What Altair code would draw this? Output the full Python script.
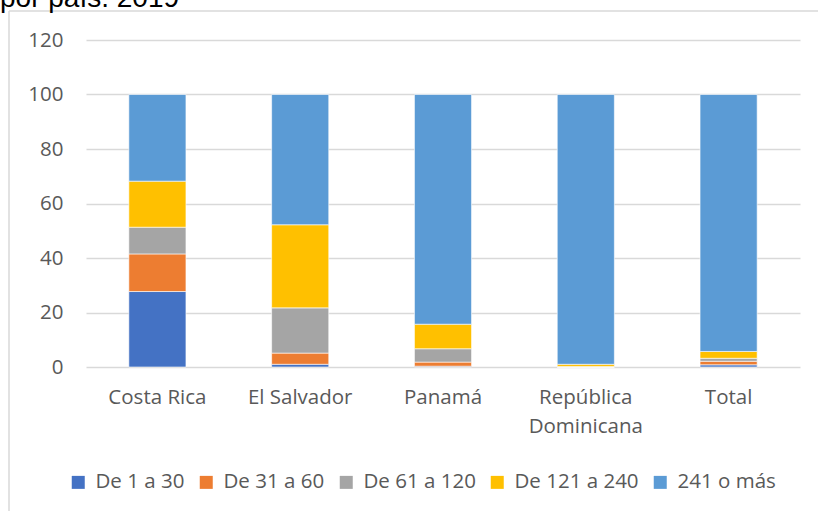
import altair as alt
import pandas as pd

countries = ["Costa Rica", "El Salvador", "Panamá", "República Dominicana", "Total"]
series = ["De 1 a 30", "De 31 a 60", "De 61 a 120", "De 121 a 240", "241 o más"]
colors = ["#4472C4", "#ED7D31", "#A5A5A5", "#FFC000", "#5B9BD5"]

v_1_30 = [27.7, 1.0, 0.3, 0.0, 0.8]
v_31_60 = [13.8, 4.1, 1.5, 0.0, 1.3]
v_61_120 = [9.8, 16.6, 4.9, 0.2, 1.1]
v_121_240 = [16.9, 30.5, 9.0, 0.8, 2.5]
v_241 = [31.8, 47.8, 84.3, 99.0, 94.3]

rows = []
for si, (s, vals) in enumerate(zip(series, [v_1_30, v_31_60, v_61_120, v_121_240, v_241])):
    for c, v in zip(countries, vals):
        rows.append({"pais": c, "serie": s, "valor": v, "idx": si})
df = pd.DataFrame(rows)

FONT = "Open Sans"
GRAY = "#595959"
FS = 20.5

bars = alt.Chart(df).mark_bar(stroke="white", strokeWidth=0.6).encode(
    x=alt.X("pais:N", sort=countries, title=None,
            scale=alt.Scale(paddingInner=0.6, paddingOuter=0.3),
            axis=alt.Axis(labelAngle=0, labelFont=FONT, labelFontSize=FS, labelColor=GRAY,
                          labelPadding=20, domain=False, ticks=False, labelLineHeight=29,
                          labelExpr="datum.value == 'República Dominicana' ? ['República', 'Dominicana'] : datum.value")),
    y=alt.Y("valor:Q", title=None, stack="zero",
            scale=alt.Scale(domain=[0, 120], nice=False),
            axis=alt.Axis(values=[0, 20, 40, 60, 80, 100, 120], labelFont=FONT, labelFontSize=FS,
                          labelColor=GRAY, labelPadding=23, domain=False, ticks=False,
                          gridColor="#D9D9D9", gridWidth=1.5)),
    color=alt.Color("serie:N", sort=series, title=None,
                    scale=alt.Scale(domain=series, range=colors),
                    legend=alt.Legend(orient="none", legendX=-18, legendY=432, direction="horizontal",
                                      symbolType="square", symbolSize=169, symbolStrokeWidth=0,
                                      labelFont=FONT, labelFontSize=FS, labelColor=GRAY,
                                      labelOffset=7, columnPadding=11, labelLimit=300)),
    order=alt.Order("idx:Q", sort="ascending"),
)

one = alt.Data(values=[{"a": 1}])
border_v = alt.Chart(one).mark_rule(color="#D9D9D9", strokeWidth=1.5).encode(
    x=alt.value(-77), y=alt.value(-29), y2=alt.value(480))
border_h = alt.Chart(one).mark_rule(color="#D9D9D9", strokeWidth=1.5).encode(
    x=alt.value(-77), x2=alt.value(740), y=alt.value(-29))
title = alt.Chart(one).mark_text(text="por país. 2019", font="Liberation Sans", fontSize=28,
                                 color="black", align="left", baseline="alphabetic").encode(
    x=alt.value(-86), y=alt.value(-33))

chart = alt.layer(border_v, border_h, title, bars).properties(
    width=714, height=327,
    autosize=alt.AutoSizeParams(type="none"),
    padding={"left": 86, "top": 40, "right": 18, "bottom": 144},
).configure_view(stroke=None)

chart.save("out.html", embed_options={"renderer": "svg", "actions": False})
